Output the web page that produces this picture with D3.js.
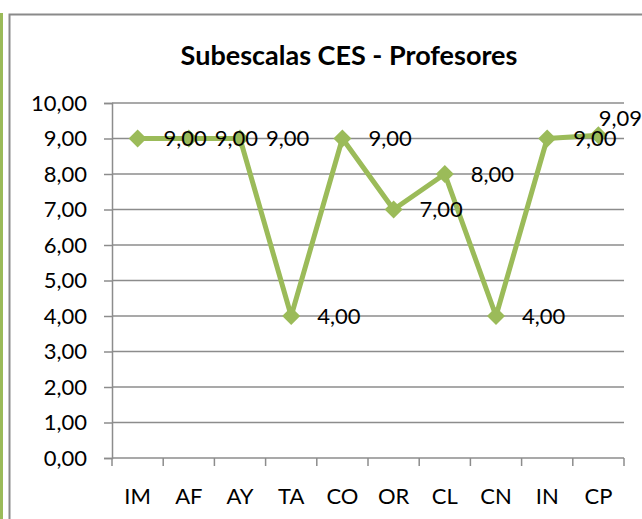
<!DOCTYPE html>
<html><head><meta charset="utf-8">
<script src="https://cdn.jsdelivr.net/npm/d3@7/dist/d3.min.js"></script>
<style>
html,body{margin:0;padding:0;background:#fff;}
svg{display:block;font-family:Lato,"Open Sans",sans-serif;}
</style></head><body>
<script>
const title = "Subescalas CES - Profesores";
const categories = ["IM","AF","AY","TA","CO","OR","CL","CN","IN","CP"];
const values = [9, 9, 9, 4, 9, 7, 8, 4, 9, 9.09];
const yTicks = [0,1,2,3,4,5,6,7,8,9,10];
const fmt = v => v.toFixed(2).replace(".", ",");

const W = 642, H = 519;
const svg = d3.select("body").append("svg").attr("width", W).attr("height", H);
const color = "#9BBB59";

// outer decorations
svg.append("rect").attr("x",0).attr("y",13).attr("width",3).attr("height",H-13).attr("fill",color);
svg.append("rect").attr("x",9.5).attr("y",14.5).attr("width",W+10).attr("height",H+10)
  .attr("fill","none").attr("stroke","#8a8a8a").attr("stroke-width",2);

svg.append("text").attr("x",349).attr("y",65).attr("text-anchor","middle")
  .attr("font-size",27).attr("font-weight","bold").attr("fill","#000").text(title);

const x = d3.scaleBand().domain(categories).range([112,624]);
const y = d3.scaleLinear().domain([0,10]).range([458,103]);

// gridlines
svg.append("g").selectAll("line").data(yTicks.filter(d=>d>0)).join("line")
  .attr("x1",112).attr("x2",624).attr("y1",d=>y(d)).attr("y2",d=>y(d))
  .attr("stroke","#8c8c8c").attr("stroke-width",1.5);

// y axis
const yAxis = svg.append("g").attr("transform","translate(112,0)")
  .call(d3.axisLeft(y).tickValues(yTicks).tickFormat(fmt).tickSize(8).tickPadding(17));
yAxis.select(".domain").attr("stroke","#8c8c8c").attr("stroke-width",1.5);
yAxis.selectAll(".tick line").attr("stroke","#8c8c8c").attr("stroke-width",1.5);
yAxis.selectAll(".tick text").attr("font-size",22).attr("font-family","Lato").attr("fill","#000");

// x axis
const xAxis = svg.append("g").attr("transform","translate(0,458)")
  .call(d3.axisBottom(x).tickSize(0).tickPadding(30));
xAxis.select(".domain").attr("stroke","#8c8c8c").attr("stroke-width",1.5).attr("d","M112,0H624");
xAxis.selectAll(".tick text").attr("font-size",22).attr("font-family","Lato").attr("fill","#000");
// boundary ticks
svg.append("g").selectAll("line").data(categories.map((c,i)=>i).concat([categories.length])).join("line")
  .attr("x1",i=>112 + i*x.step()).attr("x2",i=>112 + i*x.step())
  .attr("y1",458).attr("y2",466).attr("stroke","#8c8c8c").attr("stroke-width",1.5);

const cx = c => x(c) + x.bandwidth()/2;

svg.append("path").datum(values)
  .attr("d", d3.line().x((d,i)=>cx(categories[i])).y(d=>y(d)))
  .attr("fill","none").attr("stroke",color).attr("stroke-width",5).attr("stroke-linejoin","round");

svg.append("g").selectAll("path").data(values).join("path")
  .attr("transform",(d,i)=>`translate(${cx(categories[i])},${y(d)})`)
  .attr("d","M0,-9L9,0L0,9L-9,0Z").attr("fill",color);

// labels
const lab = svg.append("g").selectAll("text").data(values).join("text")
  .attr("font-size",22).attr("fill","#000").attr("dy","0.35em")
  .attr("x",(d,i)=>cx(categories[i])+26).attr("y",d=>y(d)).text(fmt);
lab.each(function(d,i){
  const t = d3.select(this);
  const w = this.getComputedTextLength();
  const xx = cx(categories[i])+26;
  if (xx + w > W) { t.attr("x", W - w).attr("y", y(d) - 17); }
});
</script>
</body></html>
